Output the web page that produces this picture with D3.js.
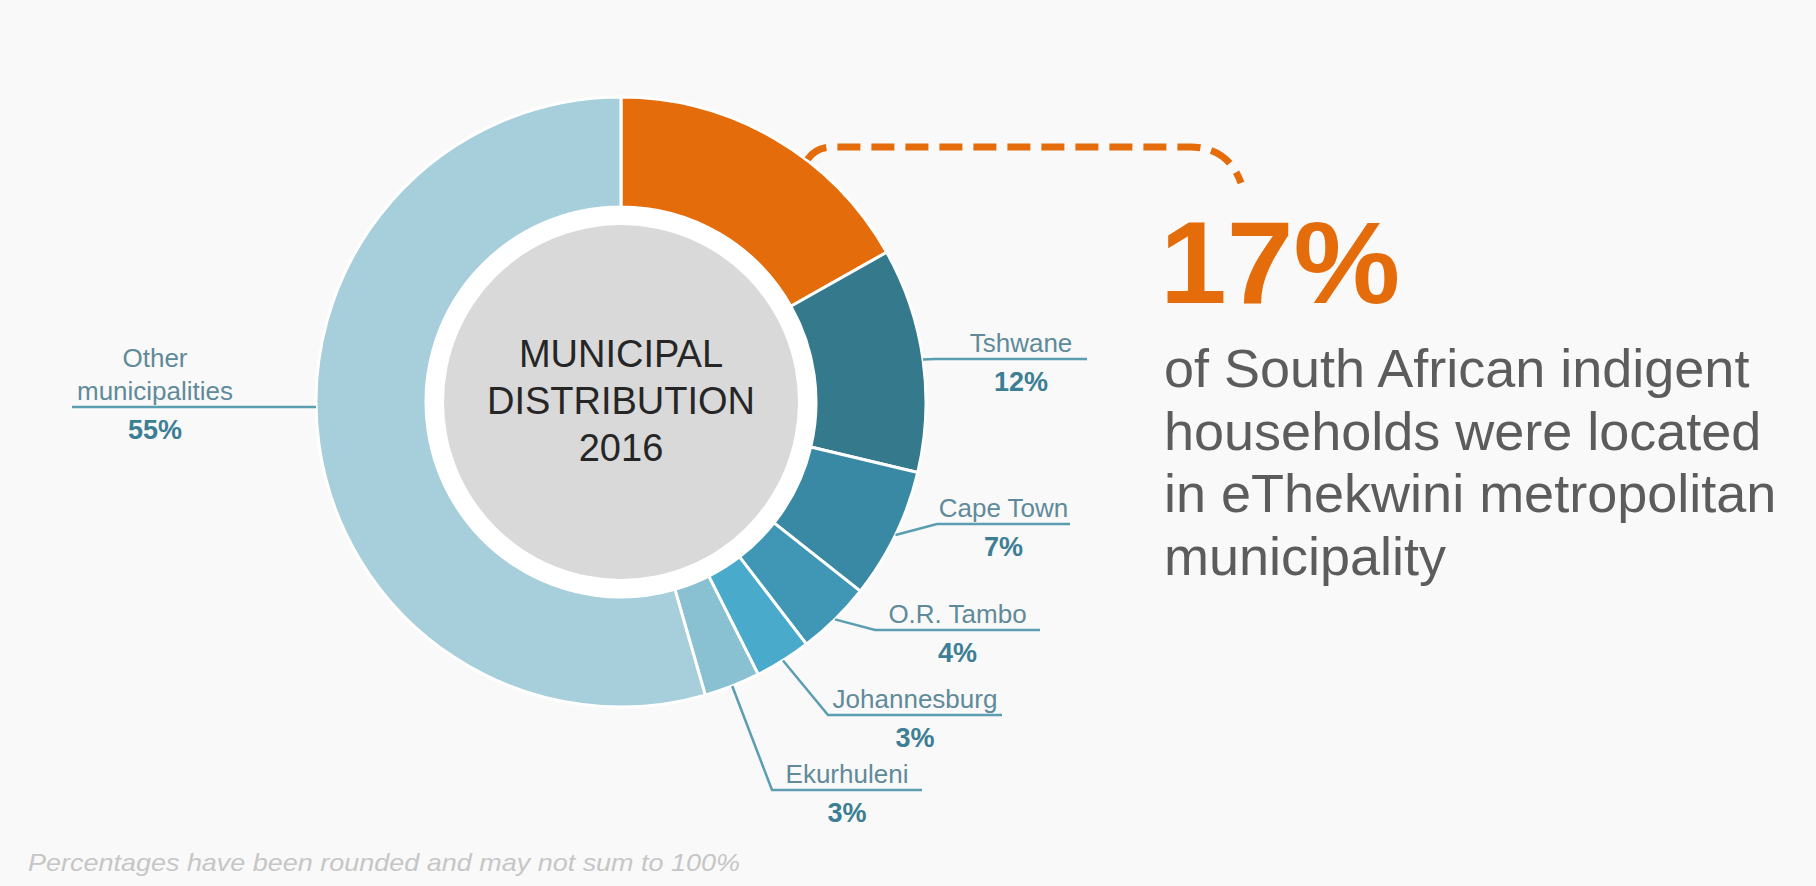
<!DOCTYPE html>
<html>
<head>
<meta charset="utf-8">
<script src="https://cdn.jsdelivr.net/npm/d3@7"></script>
<style>
  html, body { margin: 0; padding: 0; background: #f9f9f9; }
  svg { display: block; font-family: "Liberation Sans", Arial, Helvetica, sans-serif; }
</style>
</head>
<body>
<svg id="chart" width="1816" height="886"></svg>
<script>
// Share of indigent households by municipality, 2016 (%)
const categories = ["eThekwini", "Tshwane", "Cape Town", "O.R. Tambo", "Johannesburg", "Ekurhuleni", "Other municipalities"];
const shares = [17, 12, 7, 4, 3, 3, 55];
const sliceColors = ["#e46c0a", "#35798d", "#3a89a4", "#3f97b5", "#4aaacb", "#89c1d3", "#a7cedb"];

const centerTitle = ["MUNICIPAL", "DISTRIBUTION", "2016"];
const calloutLines = ["of South African indigent", "households were located", "in eThekwini metropolitan", "municipality"];
const footnote = "Percentages have been rounded and may not sum to 100%";

// Leader-line placement for each labelled slice
const labelLayout = {
  "Tshwane":              { elbowX: 935, endX: 1087, lineY: 359, textDX: 10 },
  "Cape Town":            { elbowX: 937, endX: 1070, lineY: 524, textDX: 0 },
  "O.R. Tambo":           { elbowX: 875, endX: 1040, lineY: 630, textDX: 0 },
  "Johannesburg":         { elbowX: 828, endX: 1002, lineY: 715, textDX: 0 },
  "Ekurhuleni":           { elbowX: 772, endX: 922,  lineY: 790, textDX: 0 },
  "Other municipalities": { endX: 72, lineY: 407, textX: 155, horizontal: true }
};

const svg = d3.select("#chart");
const cx = 621, cy = 402, outerR = 305, innerR = 195, discR = 177;

svg.append("rect").attr("width", 1816).attr("height", 886).attr("fill", "#f9f9f9");

const pie = d3.pie().sort(null).value(d => d);
const arcs = pie(shares);
const arc = d3.arc().innerRadius(innerR).outerRadius(outerR);
const edge = d3.arc().innerRadius(outerR).outerRadius(outerR);

const g = svg.append("g").attr("transform", `translate(${cx},${cy})`);

// white hole and grey centre disc
g.append("circle").attr("r", innerR).attr("fill", "#ffffff");
g.append("circle").attr("r", discR).attr("fill", "#d9d9d9");

g.selectAll("path.slice")
  .data(arcs)
  .join("path")
  .attr("class", "slice")
  .attr("d", arc)
  .attr("fill", (d, i) => sliceColors[i])
  .attr("stroke", "#ffffff")
  .attr("stroke-width", 3)
  .attr("stroke-linejoin", "round");

// centre title
g.append("text")
  .attr("text-anchor", "middle")
  .attr("fill", "#262626")
  .attr("font-size", 38)
  .selectAll("tspan")
  .data(centerTitle)
  .join("tspan")
  .attr("x", 0)
  .attr("y", (d, i) => -35 + i * 47)
  .text(d => d);

// slice labels with leader lines
const labelColor = "#5f8a99";
const pctColor = "#3c7e93";
const leaderColor = "#5b9db1";

arcs.forEach((d, i) => {
  const name = categories[i];
  const lay = labelLayout[name];
  if (!lay) return;
  const [ex, ey] = edge.centroid(d);
  const yRel = lay.lineY - cy;
  let pts, textX;
  if (lay.horizontal) {
    const xEdge = -Math.sqrt(outerR * outerR - yRel * yRel);
    pts = [[xEdge, yRel], [lay.endX - cx, yRel]];
    textX = lay.textX - cx;
  } else {
    pts = [[ex, ey], [lay.elbowX - cx, yRel], [lay.endX - cx, yRel]];
    textX = (lay.elbowX + lay.endX) / 2 - cx + lay.textDX;
  }
  g.append("path")
    .attr("d", d3.line()(pts))
    .attr("fill", "none")
    .attr("stroke", leaderColor)
    .attr("stroke-width", 2.5);

  const words = lay.horizontal ? name.split(" ") : [name];
  const t = g.append("text")
    .attr("text-anchor", "middle")
    .attr("fill", labelColor)
    .attr("font-size", 26);
  words.forEach((w, k) => {
    t.append("tspan")
      .attr("x", textX)
      .attr("y", yRel - 7 - (words.length - 1 - k) * 33)
      .text(w);
  });

  g.append("text")
    .attr("x", textX)
    .attr("y", yRel + 32)
    .attr("text-anchor", "middle")
    .attr("fill", pctColor)
    .attr("font-size", 27)
    .attr("font-weight", "bold")
    .text(shares[i] + "%");
});

// dashed connector from the highlighted slice to the callout
const hi = arcs[0];
const anchorAngle = hi.startAngle + 0.62 * (hi.endAngle - hi.startAngle);
const p0 = [cx + (outerR + 1) * Math.sin(anchorAngle), cy - (outerR + 1) * Math.cos(anchorAngle)];
const lineTop = 147;
const conn = d3.path();
conn.moveTo(p0[0], p0[1]);
conn.quadraticCurveTo(p0[0] + 8, lineTop, p0[0] + 25, lineTop);
conn.lineTo(1190, lineTop);
conn.quadraticCurveTo(1228, lineTop, 1241, 183);
svg.append("path")
  .attr("d", conn.toString())
  .attr("fill", "none")
  .attr("stroke", sliceColors[0])
  .attr("stroke-width", 7)
  .attr("stroke-dasharray", "23 11");

// callout
svg.append("text")
  .attr("x", 1160)
  .attr("y", 303)
  .attr("fill", sliceColors[0])
  .attr("font-size", 116)
  .attr("font-weight", "bold")
  .attr("textLength", 240)
  .attr("lengthAdjust", "spacingAndGlyphs")
  .text(shares[0] + "%");

svg.append("text")
  .attr("fill", "#5c5c5c")
  .attr("font-size", 54)
  .selectAll("tspan")
  .data(calloutLines)
  .join("tspan")
  .attr("x", 1164)
  .attr("y", (d, i) => 387 + i * 62.5)
  .text(d => d);

// footnote
svg.append("text")
  .attr("x", 28)
  .attr("y", 871)
  .attr("fill", "#c6c6c6")
  .attr("font-size", 24)
  .attr("font-style", "italic")
  .attr("textLength", 712)
  .attr("lengthAdjust", "spacingAndGlyphs")
  .text(footnote);
</script>
</body>
</html>
